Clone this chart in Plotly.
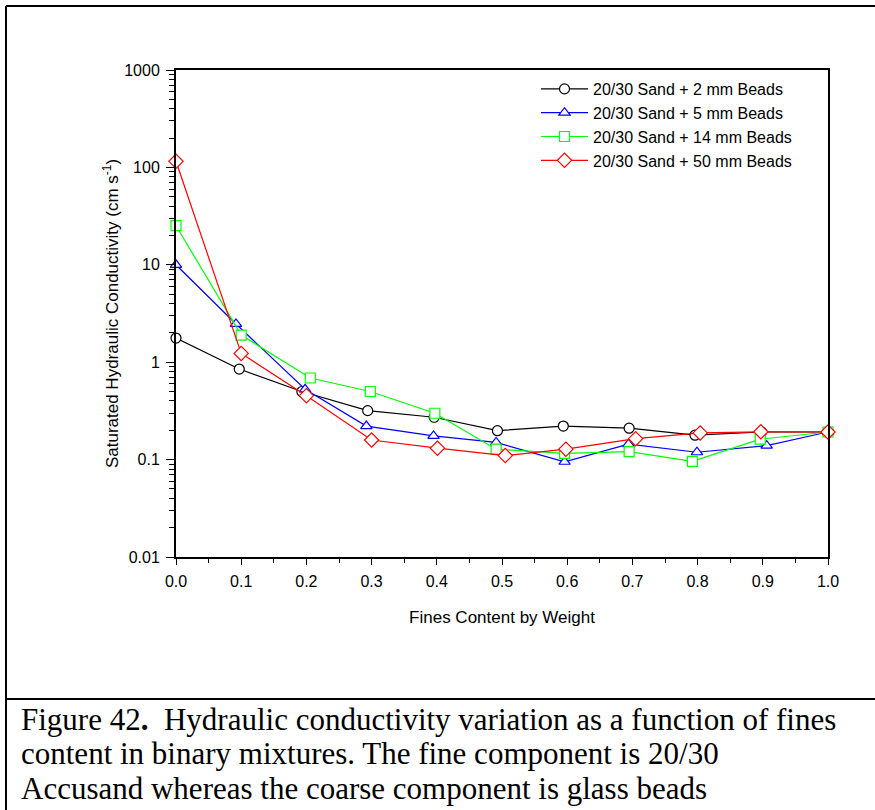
import plotly.graph_objects as go

# ---- data ----
series_names = ["20/30 Sand + 2 mm Beads", "20/30 Sand + 5 mm Beads",
                "20/30 Sand + 14 mm Beads", "20/30 Sand + 50 mm Beads"]

x_2mm = [0.0, 0.097, 0.193, 0.294, 0.396, 0.493, 0.594, 0.695, 0.796, 0.898, 1.0]
k_2mm = [1.77, 0.85, 0.50, 0.318, 0.272, 0.198, 0.221, 0.210, 0.178, 0.192, 0.192]

x_5mm = [0.0, 0.092, 0.198, 0.292, 0.395, 0.491, 0.596, 0.694, 0.799, 0.906, 1.0]
k_5mm = [10.0, 2.47, 0.527, 0.221, 0.175, 0.150, 0.095, 0.144, 0.119, 0.139, 0.192]

x_14mm = [0.0, 0.1, 0.206, 0.298, 0.397, 0.491, 0.596, 0.695, 0.792, 0.896, 1.0]
k_14mm = [25.2, 1.90, 0.688, 0.50, 0.299, 0.128, 0.116, 0.121, 0.096, 0.162, 0.192]

x_50mm = [0.0, 0.1, 0.200, 0.300, 0.401, 0.505, 0.598, 0.705, 0.804, 0.897, 1.0]
k_50mm = [115.5, 1.23, 0.453, 0.159, 0.131, 0.110, 0.128, 0.164, 0.188, 0.193, 0.192]

x_ticks = [0.0, 0.1, 0.2, 0.3, 0.4, 0.5, 0.6, 0.7, 0.8, 0.9, 1.0]
x_ticktext = ["0.0", "0.1", "0.2", "0.3", "0.4", "0.5", "0.6", "0.7", "0.8", "0.9", "1.0"]
y_ticks = [0.01, 0.1, 1, 10, 100, 1000]
y_ticktext = ["0.01", "0.1", "1", "10", "100", "1000"]

caption_lines = [
    "Figure 42<b>.</b>  Hydraulic conductivity variation as a function of fines",
    "content in binary mixtures. The fine component is 20/30",
    "Accusand whereas the coarse component is glass beads",
]

# ---- styles ----
colors = ["#000000", "#0000FF", "#00FF00", "#FF0000"]
symbols = ["circle", "triangle-up", "square", "diamond"]
sizes = [10, 10, 10, 11]
xs = [x_2mm, x_5mm, x_14mm, x_50mm]
ks = [k_2mm, k_5mm, k_14mm, k_50mm]

FONT = "Liberation Sans, Arial, sans-serif"

fig = go.Figure()
for name, x, k, c, s, sz in zip(series_names, xs, ks, colors, symbols, sizes):
    fig.add_trace(go.Scatter(
        x=x, y=k, name=name, mode="lines+markers",
        line=dict(color=c, width=1.2),
        marker=dict(symbol=s, size=sz, color="white", line=dict(color=c, width=1.2)),
        cliponaxis=False,
    ))

W, H = 875, 810
L, R, T, B = 176, 828, 70, 557


def px_x(p):
    return (p - L) / (R - L)


def px_y(p):
    return (B - p) / (B - T)


shapes = [
    # outer frame lines
    dict(type="line", xref="paper", yref="paper", x0=px_x(6), x1=px_x(880), y0=px_y(6), y1=px_y(6),
         line=dict(color="black", width=2)),
    dict(type="line", xref="paper", yref="paper", x0=px_x(6), x1=px_x(6), y0=px_y(6), y1=px_y(815),
         line=dict(color="black", width=2)),
    dict(type="line", xref="paper", yref="paper", x0=px_x(6), x1=px_x(880), y0=px_y(699), y1=px_y(699),
         line=dict(color="black", width=2)),
]

CAP_SIZE = 31
CAP_STEP = 34.5
annotations = []
for i, line in enumerate(caption_lines):
    annotations.append(dict(
        text=line, xref="paper", yref="paper", x=px_x(20), y=px_y(719 + CAP_STEP * i),
        xanchor="left", yanchor="middle", showarrow=False, borderpad=0,
        font=dict(family="Liberation Serif, Times New Roman, serif", size=CAP_SIZE, color="black"),
    ))

fig.update_layout(
    width=W, height=H,
    margin=dict(l=L, r=W - R, t=T, b=H - B, pad=0),
    paper_bgcolor="white", plot_bgcolor="white",
    font=dict(family=FONT, size=16, color="black"),
    showlegend=True,
    legend=dict(
        x=px_x(536), y=px_y(72), xanchor="left", yanchor="top",
        bgcolor="rgba(0,0,0,0)", font=dict(family=FONT, size=16, color="black"),
        itemwidth=47, tracegroupgap=0,
    ),
    shapes=shapes,
    annotations=annotations,
)

fig.update_xaxes(
    range=[0, 1], tickvals=x_ticks, ticktext=x_ticktext,
    showgrid=False, zeroline=False,
    showline=True, linecolor="black", linewidth=2, mirror=True,
    ticks="outside", ticklen=6, tickwidth=1, tickcolor="black",
    tickfont=dict(family=FONT, size=16), ticklabelstandoff=3,
    minor=dict(ticks="outside", ticklen=4, tickwidth=1, tickcolor="black", dtick=0.05, showgrid=False),
    title=dict(text="Fines Content by Weight", font=dict(family=FONT, size=17), standoff=22),
)

fig.update_yaxes(
    type="log", range=[-2, 3], tickvals=y_ticks, ticktext=y_ticktext,
    showgrid=False, zeroline=False,
    showline=True, linecolor="black", linewidth=2, mirror=True,
    ticks="outside", ticklen=8, tickwidth=1, tickcolor="black",
    tickfont=dict(family=FONT, size=16), ticklabelstandoff=3,
    minor=dict(ticks="outside", ticklen=5, tickwidth=1, tickcolor="black", dtick="D1", showgrid=False),
    title=dict(text="Saturated Hydraulic Conductivity (cm s<sup>-1</sup>)",
               font=dict(family=FONT, size=17), standoff=1),
)

fig.write_html("out.html", config={"displayModeBar": False},
               post_script="document.body.style.margin='0';document.body.style.padding='0';")
